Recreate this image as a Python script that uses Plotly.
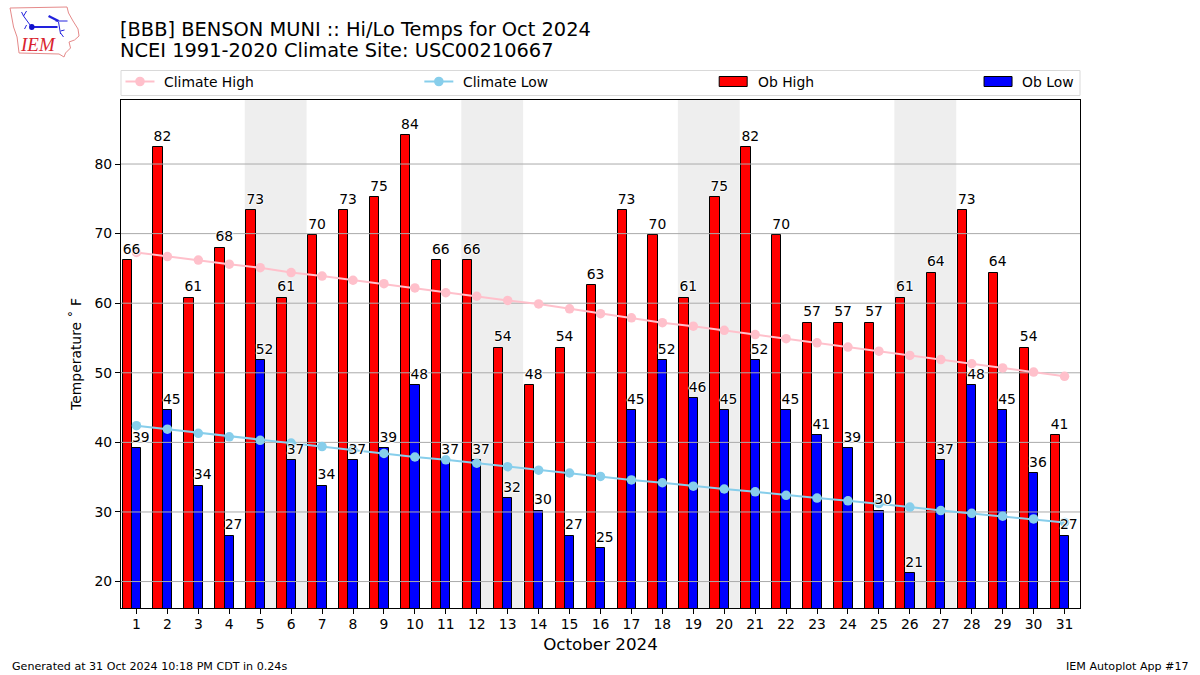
import plotly.graph_objects as go

days = list(range(1, 32))
ob_high = [66.2, 82.4, 60.8, 68.0, 73.4, 60.8, 69.8, 73.4, 75.2, 84.2, 66.2, 66.2, 53.6, 48.2, 53.6, 62.6,
           73.4, 69.8, 60.8, 75.2, 82.4, 69.8, 57.2, 57.2, 57.2, 60.8, 64.4, 73.4, 64.4, 53.6, 41.0]
ob_low = [39.2, 44.6, 33.8, 26.6, 51.8, 37.4, 33.8, 37.4, 39.2, 48.2, 37.4, 37.4, 32.0, 30.2, 26.6, 24.8,
          44.6, 51.8, 46.4, 44.6, 51.8, 44.6, 41.0, 39.2, 30.2, 21.2, 37.4, 48.2, 44.6, 35.6, 26.6]
climate_high = [67.3, 66.7, 66.2, 65.6, 65.1, 64.4, 63.9, 63.3, 62.8, 62.2, 61.5, 61.0, 60.4, 59.9, 59.2, 58.5,
                57.9, 57.2, 56.7, 56.1, 55.5, 54.9, 54.3, 53.7, 53.1, 52.5, 51.9, 51.3, 50.7, 50.1, 49.5]
climate_low = [42.4, 41.9, 41.3, 40.8, 40.3, 39.9, 39.4, 38.9, 38.4, 37.9, 37.5, 37.0, 36.5, 36.0, 35.6, 35.1,
               34.6, 34.2, 33.7, 33.3, 32.9, 32.4, 32.0, 31.6, 31.2, 30.7, 30.2, 29.8, 29.4, 29.0, 28.5]
weekend_spans = [(4.5, 6.5), (11.5, 13.5), (18.5, 20.5), (25.5, 27.5)]
y_ticks = [20, 30, 40, 50, 60, 70, 80]
title_lines = ["[BBB] BENSON MUNI :: Hi/Lo Temps for Oct 2024", "NCEI 1991-2020 Climate Site: USC00210667"]

W, H = 1200, 675
L, R, T, B = 120.5, 1080, 100, 608
FONT = "DejaVu Sans"
BW = 0.3
BAR_OFFSETS = (-0.3, 0.0)
LABEL_SHIFT = 0.14
HALO = "-1px 0 1px #fff, 1px 0 1px #fff, 0 -1px 1px #fff, 0 1px 1px #fff"
PINK, SKY = "#ffc0cb", "#87ceeb"


def px(x):
    return (x - L) / (R - L)


def py(y):
    return (B - y) / (B - T)


def path(pts, close=False):
    s = "M" + " L".join(f"{px(x):.5f},{py(y):.5f}" for x, y in pts)
    return s + (" Z" if close else "")


fig = go.Figure()
fig.add_trace(go.Bar(x=[d + BAR_OFFSETS[0] for d in days], y=ob_high, width=BW, name="Ob High", marker=dict(color="#ff0000", line=dict(color="black", width=1))))
fig.add_trace(go.Bar(x=[d + BAR_OFFSETS[1] for d in days], y=ob_low, width=BW, name="Ob Low", marker=dict(color="#0000ff", line=dict(color="black", width=1))))

# gridlines sit above the bars but below the climate lines
gx, gy = [], []
for t in y_ticks:
    gx += [0.5, 31.5, None]
    gy += [t, t, None]
fig.add_trace(go.Scatter(x=gx, y=gy, mode="lines", line=dict(color="#aaaaaa", width=1), hoverinfo="skip", name="grid"))

for name, vals, col in (("Climate High", climate_high, PINK), ("Climate Low", climate_low, SKY)):
    fig.add_trace(go.Scatter(x=days, y=vals, name=name, mode="lines+markers", line=dict(color=col, width=2), marker=dict(color=col, size=9.5)))

for vals, off in zip((ob_high, ob_low), BAR_OFFSETS):
    fig.add_trace(go.Scatter(
        x=[d + off + LABEL_SHIFT for d in days], y=[v + 0.4 for v in vals], mode="text", text=[str(round(v)) for v in vals],
        textposition="top center", cliponaxis=False,
        textfont=dict(family=FONT, size=13.9, color="black", shadow=HALO), hoverinfo="skip", showlegend=False))

shapes = [dict(type="rect", xref="x", yref="paper", x0=a, x1=b, y0=0, y1=1, fillcolor="#eeeeee", line_width=0, layer="below") for a, b in weekend_spans]

# hand-placed legend strip spanning the axes width
shapes.append(dict(type="rect", xref="paper", yref="paper", x0=px(120.5), x1=px(1080), y0=py(95.5), y1=py(70.5), fillcolor="white", line=dict(color="#d9d9d9", width=1)))
LEG_Y = 81.5
for x0, col in ((125, PINK), (424, SKY)):
    shapes.append(dict(type="line", xref="paper", yref="paper", x0=px(x0), x1=px(x0 + 29), y0=py(LEG_Y), y1=py(LEG_Y), line=dict(color=col, width=2)))
    shapes.append(dict(type="circle", xref="paper", yref="paper", x0=px(x0 + 9.7), x1=px(x0 + 19.3), y0=py(LEG_Y + 4.8), y1=py(LEG_Y - 4.8), fillcolor=col, line_width=0))
for x0, col in ((719, "#ff0000"), (984, "#0000ff")):
    shapes.append(dict(type="rect", xref="paper", yref="paper", x0=px(x0), x1=px(x0 + 28), y0=py(LEG_Y + 5), y1=py(LEG_Y - 5), fillcolor=col, line=dict(color="black", width=1)))

# IEM logo
IOWA = [(9.5, 8), (66.5, 7), (68, 13), (72.5, 21), (77.5, 29), (78.5, 36), (74, 40), (68.5, 42), (70, 48), (65, 53), (63.5, 57), (58.5, 54), (18.5, 53), (16.5, 37), (13, 27)]
shapes.append(dict(type="path", xref="paper", yref="paper", path=path(IOWA, True), line=dict(color="#e58a8a", width=1), fillcolor="white"))
for seg, w in (([(31, 27), (57, 27)], 2), ([(31, 27), (23, 16)], 1), ([(23, 16), (21, 12)], 1), ([(23, 16), (26, 11)], 1),
               ([(58, 22), (60, 34)], 1), ([(60, 31), (64, 30)], 1), ([(60, 33), (63, 37)], 1), ([(48, 16), (58, 21)], 2.5), ([(55, 21), (67, 21)], 1), ([(24, 29), (26, 25)], 1)):
    shapes.append(dict(type="path", xref="paper", yref="paper", path=path(seg), line=dict(color="#2222dd", width=w)))
shapes.append(dict(type="circle", xref="paper", yref="paper", x0=px(28.5), x1=px(34), y0=py(30), y1=py(24), fillcolor="#1111cc", line_width=0))

ann = [dict(xref="paper", yref="paper", x=px(117), y=py(y), text=t, showarrow=False, xanchor="left", yanchor="middle",
            font=dict(family=FONT, size=19.4, color="black")) for y, t in ((29, title_lines[0]), (50.5, title_lines[1]))]
for x, t in ((161.5, "Climate High"), (460.5, "Climate Low"), (755.5, "Ob High"), (1019.5, "Ob Low")):
    ann.append(dict(xref="paper", yref="paper", x=px(x), y=py(LEG_Y), text=t, showarrow=False, xanchor="left", yanchor="middle", font=dict(family=FONT, size=13.9, color="black")))
ann.append(dict(xref="paper", yref="paper", x=px(9), y=py(666), text="Generated at 31 Oct 2024 10:18 PM CDT in 0.24s", showarrow=False, xanchor="left", yanchor="middle", font=dict(family=FONT, size=11.1, color="black")))
ann.append(dict(xref="paper", yref="paper", x=px(1191), y=py(666), text="IEM Autoplot App #17", showarrow=False, xanchor="right", yanchor="middle", font=dict(family=FONT, size=11.1, color="black")))
ann.append(dict(xref="paper", yref="paper", x=px(37), y=py(45), text="<i>IEM</i>", showarrow=False, xanchor="center", yanchor="middle", font=dict(family="Liberation Serif", size=19, color="#d9232e")))

fig.update_layout(
    width=W, height=H, autosize=False, margin=dict(l=L, r=W - R, t=T, b=H - B, pad=0),
    paper_bgcolor="white", plot_bgcolor="white", showlegend=False, barmode="overlay", bargap=0,
    font=dict(family=FONT, size=13.9, color="black"), shapes=shapes, annotations=ann,
    xaxis=dict(range=[0.5, 31.5], tickmode="array", tickvals=days, ticks="outside", ticklen=5, tickwidth=1, tickcolor="black",
               showline=True, linecolor="black", linewidth=1, mirror=True, showgrid=False, zeroline=False, ticklabelstandoff=-2,
               title=dict(text="October 2024", font=dict(size=16.7, family=FONT), standoff=7), tickfont=dict(size=13.9)),
    yaxis=dict(range=[16.2, 89.2], tickmode="array", tickvals=y_ticks, ticks="outside", ticklen=5, tickwidth=1, tickcolor="black",
               showline=True, linecolor="black", linewidth=1, mirror=True, showgrid=False, zeroline=False,
               title=dict(text="Temperature ˚ F", font=dict(size=13.9, family=FONT), standoff=9), tickfont=dict(size=13.9)),
)
fig.write_html("out.html", config=dict(displayModeBar=False), post_script="document.body.style.margin='0';")
